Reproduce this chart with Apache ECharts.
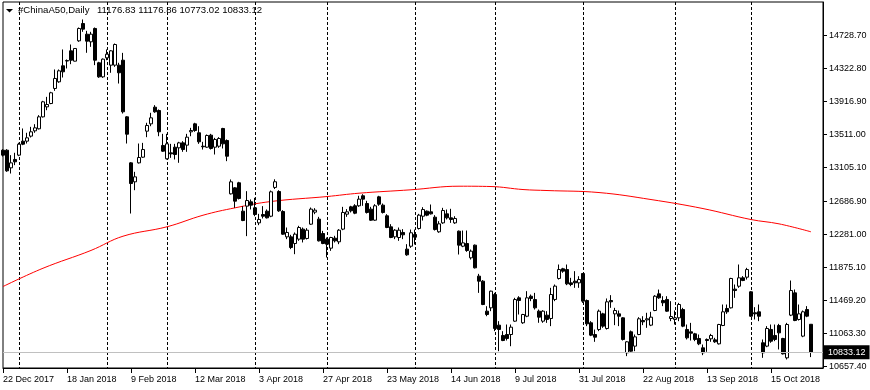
<!DOCTYPE html>
<html>
<head>
<meta charset="utf-8">
<script src="https://cdn.jsdelivr.net/npm/echarts@6/dist/echarts.min.js"></script>
<style>
html,body{margin:0;padding:0;background:#fff;}
#chart{width:870px;height:390px;}
</style>
</head>
<body>
<div id="chart"></div>
<script>
// ---- trading days (categories) ----
const tradingMonths = [
  ['Dec 2017', [22,27,28,29]],
  ['Jan 2018', [2,3,4,5,8,9,10,11,12,15,16,17,18,19,22,23,24,25,26,29,30,31]],
  ['Feb 2018', [1,2,5,6,7,8,9,12,13,14,22,23,26,27,28]],
  ['Mar 2018', [1,2,5,6,7,8,9,12,13,14,15,16,19,20,21,22,23,26,27,28,29,30]],
  ['Apr 2018', [2,3,4,9,10,11,12,13,16,17,18,19,20,23,24,25,26,27]],
  ['May 2018', [2,3,4,7,8,9,10,11,14,15,16,17,18,21,22,23,24,25,28,29,30,31]],
  ['Jun 2018', [1,4,5,6,7,8,11,12,13,14,15,19,20,21,22,25,26,27,28,29]],
  ['Jul 2018', [2,3,4,5,6,9,10,11,12,13,16,17,18,19,20,23,24,25,26,27,30,31]],
  ['Aug 2018', [1,2,3,6,7,8,9,10,13,14,15,16,17,20,21,22,23,24,27,28,29,30,31]],
  ['Sep 2018', [3,4,5,6,7,10,11,12,13,14,17,18,19,20,21,25,26,27,28]],
  ['Oct 2018', [8,9,10,11,12,15,16,17,18,19,22,23,24,25,26,29]]
];
const emptyDays = ['30 Oct 2018', '31 Oct 2018', '1 Nov 2018'];

// ---- x tick labels and month separators ----
const tickLabels = ['22 Dec 2017','18 Jan 2018','9 Feb 2018','12 Mar 2018','3 Apr 2018','27 Apr 2018',
  '23 May 2018','14 Jun 2018','9 Jul 2018','31 Jul 2018','22 Aug 2018','13 Sep 2018','15 Oct 2018'];
const monthStarts = ['2 Jan 2018','1 Feb 2018','1 Mar 2018','2 Apr 2018','2 May 2018','1 Jun 2018',
  '2 Jul 2018','1 Aug 2018','3 Sep 2018','8 Oct 2018'];

// ---- y tick labels ----
const yTicks = [10657.40, 11063.30, 11469.20, 11875.10, 12281.00, 12686.90, 13105.10, 13511.00, 13916.90, 14322.80, 14728.70];

// ---- OHLC ----
const opens = [13318,13318,13101,13204,13257,13429,13429,13491,13556,13581,13728,13851,13892,14077,14159,14356,14420,14540,14413,14663,
14876,14745,14651,14815,14393,14220,14454,14364,14364,14364,14425,13728,13162,12929,13162,13232,13552,13642,13847,13806,
13376,13212,13285,13355,13347,13408,13380,13544,13642,13532,13367,13355,13503,13355,13367,13585,13437,12781,12855,12917,
12568,12630,12683,12609,12424,12527,12568,12506,12860,12810,12564,12252,12252,12170,12224,12347,12232,12408,12556,12470,
12293,12224,12113,12236,12191,12347,12531,12621,12634,12634,12757,12662,12593,12457,12744,12642,12511,12375,12252,12244,
12306,12101,12137,12281,12355,12506,12568,12560,12494,12314,12424,12535,12486,12424,12322,12137,12170,11994,12150,11769,
11707,11338,11379,11543,11166,11039,11051,11051,11215,11502,11195,11276,11522,11481,11338,11215,11289,11248,11482,11740,
11859,11850,11686,11707,11686,11801,11469,11195,11051,11112,11305,11125,11469,11305,11305,11256,10826,11084,10908,11051,
11223,11231,11166,11346,11551,11469,11482,11248,11236,11256,11358,11113,11084,11059,11002,10887,10990,10998,10985,10936,
11162,11371,11379,11609,11645,11748,11756,11576,11318,11330,10949,10908,11113,11039,11162,11002,10764,11289,11563,11236,
11031,11358,11176.83];
const highs = [13330,13330,13257,13286,13409,13585,13532,13605,13638,13749,13925,13974,14036,14311,14311,14557,14434,14618,14572,14827,
14926,14786,14774,14827,14405,14446,14557,14548,14630,14393,14515,13737,13171,13052,13400,13408,13655,13778,13872,13819,
13519,13519,13396,13396,13421,13429,13519,13593,13655,13613,13421,13511,13519,13470,13478,13593,13450,12958,12863,12929,
12630,12814,12712,12732,12535,12630,12589,12822,12960,12826,12580,12367,12277,12306,12388,12367,12359,12613,12605,12498,
12326,12244,12252,12265,12347,12621,12593,12634,12654,12757,12777,12695,12621,12654,12757,12662,12531,12408,12347,12367,
12347,12162,12342,12342,12535,12617,12576,12650,12519,12445,12609,12588,12597,12506,12330,12330,12330,12096,12158,11797,
11720,11399,11590,11563,11215,11092,11174,11174,11502,11522,11305,11584,11543,11563,11358,11350,11338,11625,11666,11912,
11871,11912,11748,11830,11768,11801,11481,11215,11112,11358,11318,11494,11535,11379,11346,11264,10969,11100,11051,11264,
11276,11318,11330,11535,11604,11522,11522,11461,11346,11440,11379,11174,11194,11071,11051,10928,11002,11059,11010,11182,
11420,11420,11748,11666,11912,11769,11871,11584,11387,11420,10990,11154,11174,11174,11182,11010,11194,11715,11604,11420,
11346,11400,11176.86];
const lows = [13240,13052,13031,13134,13245,13380,13400,13474,13532,13573,13720,13810,13884,14048,14147,14212,14323,14376,14410,14651,
14774,14516,14589,14364,14208,14208,14425,14270,14343,14138,13769,13400,12539,12826,13154,13224,13478,13613,13778,13490,
13298,13204,13224,13204,13163,13298,13298,13490,13544,13396,13326,13347,13326,13265,13347,13339,13183,12773,12609,12712,
12445,12261,12589,12506,12396,12478,12478,12494,12840,12560,12277,12224,12101,12039,12203,12183,12220,12400,12531,12195,
12162,11998,12080,12183,12162,12334,12498,12552,12531,12621,12634,12539,12449,12449,12634,12539,12359,12236,12224,12203,
12224,12019,12117,12158,12342,12453,12506,12527,12330,12302,12412,12466,12424,12412,12035,12125,12068,11973,11863,11563,
11412,11276,11338,11092,10846,10969,10977,10907,11207,11297,11182,11264,11461,11358,11195,11195,11194,11154,11461,11727,
11810,11658,11645,11625,11625,11440,11154,11031,10961,11092,11133,11112,11379,11166,11154,10977,10785,10838,10846,11043,
11166,11133,11154,11338,11490,11400,11330,11215,11174,11215,11141,10990,10977,10969,10920,10797,10838,10961,10948,10928,
11154,11305,11371,11502,11625,11707,11727,11268,11236,11215,10764,10895,10949,10969,10867,10805,10744,11277,11215,11223,
11018,11264,10773.02];
const closes = [13257,13064,13162,13175,13392,13392,13470,13544,13593,13728,13913,13880,14024,14200,14294,14282,14415,14425,14569,14815,
14807,14659,14745,14425,14220,14438,14499,14540,14618,14270,13790,13515,12908,12990,13228,13326,13622,13716,13790,13544,
13306,13396,13273,13265,13408,13326,13478,13560,13560,13421,13360,13499,13339,13450,13462,13396,13244,12929,12691,12724,
12453,12699,12642,12527,12466,12506,12486,12806,12930,12572,12285,12306,12121,12285,12367,12224,12334,12593,12580,12203,
12170,12162,12244,12203,12334,12552,12560,12572,12543,12716,12716,12552,12457,12634,12654,12552,12367,12244,12334,12334,
12277,12031,12302,12248,12519,12588,12519,12535,12342,12412,12576,12486,12466,12478,12150,12178,12084,12076,11871,11707,
11420,11297,11584,11125,11113,10977,11002,11141,11481,11469,11297,11502,11494,11379,11264,11338,11236,11543,11646,11850,
11830,11674,11666,11686,11727,11461,11182,11043,11018,11338,11154,11453,11453,11346,11276,10990,10961,10846,11022,11244,
11207,11244,11264,11522,11502,11441,11338,11272,11256,11420,11154,11010,11067,10990,10936,10826,10977,11039,10961,11174,
11330,11330,11740,11592,11748,11715,11850,11276,11305,11276,10826,11125,10969,10990,11071,10813,11174,11592,11223,11305,
11330,11277,10833.12];

// ---- moving average (read at sample dates) ----
const maDates = ['22 Dec 2017','10 Jan 2018','26 Jan 2018','7 Feb 2018','1 Mar 2018','14 Mar 2018','26 Mar 2018',
  '10 Apr 2018','2 May 2018','14 May 2018','31 May 2018','19 Jun 2018','29 Jun 2018','11 Jul 2018','19 Jul 2018',
  '7 Aug 2018','24 Aug 2018','12 Sep 2018','8 Oct 2018','17 Oct 2018','29 Oct 2018'];
const maValues = [11641,11866,12085,12260,12376,12518,12609,12687,12748,12789,12831,12875,12871,12834,12822,
  12797,12711,12600,12465,12412,12314];

const titleName = '#ChinaA50,Daily';
const titleValues = '11176.83 11176.86 10773.02 10833.12';
const bidPrice = 10833.12;

// ---- build ----
const categories = [];
tradingMonths.forEach(([m, days]) => days.forEach(d => categories.push(d + ' ' + m)));
const realCount = categories.length;
emptyDays.forEach(d => categories.push(d));

const candleData = [];
for (let i = 0; i < realCount; i++) {
  candleData.push([opens[i], closes[i], lows[i], highs[i]]);
}
const maData = maDates.map((d, k) => [d, maValues[k]]);

const tickSet = new Set(tickLabels);
const monthSet = new Set(monthStarts);
const FONT = '"Liberation Sans", Arial, sans-serif';

const chart = echarts.init(document.getElementById('chart'), null, {renderer: 'canvas'});
chart.setOption({
  animation: false,
  backgroundColor: '#fff',
  grid: {left: 3, right: 47, top: 2, bottom: 22, show: true, borderColor: '#000', borderWidth: 1, backgroundColor: 'transparent'},
  xAxis: {
    type: 'category',
    data: categories,
    boundaryGap: false,
    axisLine: {show: true, lineStyle: {color: '#000', width: 1}},
    axisTick: {show: true, length: 5, interval: (i, v) => tickSet.has(v), lineStyle: {color: '#000'}},
    axisLabel: {interval: (i, v) => tickSet.has(v), align: 'left', color: '#000', fontSize: 9, fontFamily: FONT, margin: 7},
    splitLine: {show: true, interval: (i, v) => monthSet.has(v), lineStyle: {color: '#000', type: [3, 2], width: 1}}
  },
  yAxis: {
    type: 'value',
    position: 'right',
    min: 10638.95,
    max: 15140.75,
    splitLine: {show: false},
    axisLine: {show: true, lineStyle: {color: '#000'}},
    axisTick: {show: true, length: 4, customValues: yTicks, lineStyle: {color: '#000'}},
    axisLabel: {customValues: yTicks, formatter: v => v.toFixed(2), color: '#000', fontSize: 9, fontFamily: FONT, margin: 6}
  },
  graphic: [
    {type: 'polygon', shape: {points: [[6, 9], [13, 9], [9.5, 12.5]]}, style: {fill: '#000'}},
    {type: 'text', x: 18, y: 5, style: {text: titleName, fontSize: 9.6, fontFamily: FONT, fill: '#000'}},
    {type: 'text', x: 97, y: 5, style: {text: titleValues, fontSize: 9.6, fontFamily: FONT, fill: '#000'}}
  ],
  series: [
    {
      type: 'line',
      data: maData,
      showSymbol: false,
      smooth: 0.4,
      lineStyle: {color: '#ff0000', width: 1},
      z: 1,
      silent: true
    },
    {
      type: 'candlestick',
      data: candleData,
      barWidth: 3,
      itemStyle: {color: '#fff', color0: '#000', borderColor: '#000', borderColor0: '#000', borderWidth: 1},
      z: 3,
      silent: true,
      markLine: {
        silent: true,
        symbol: ['none', 'none'],
        data: [{yAxis: bidPrice}],
        lineStyle: {color: '#c0c0c0', type: 'solid', width: 1},
        label: {show: true, position: 'end', formatter: bidPrice.toFixed(2), color: '#fff', backgroundColor: '#000',
          padding: [3, 4, 2, 4], fontSize: 9, fontFamily: FONT, distance: 1},
        emphasis: {disabled: true}
      }
    }
  ]
});
</script>
</body>
</html>
